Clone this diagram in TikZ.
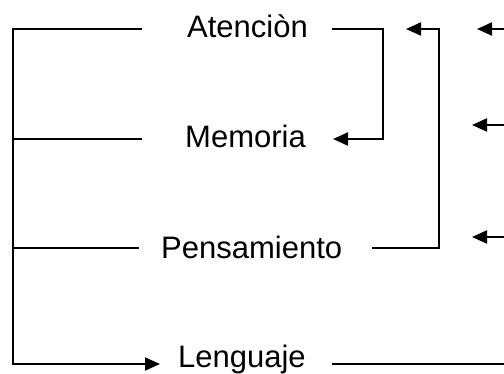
\documentclass[tikz,border=0pt]{standalone}
\usepackage{fontspec}
\setmainfont{Liberation Sans}
\usetikzlibrary{arrows.meta}
\begin{document}
\begin{tikzpicture}[x=1pt,y=-1pt,
  conn/.style={line width=2pt,line cap=rect},
  arr/.style={conn,line cap=butt,-{Triangle[length=15pt,width=13pt]}},
  lbl/.style={inner sep=0pt,anchor=base west,font=\fontsize{31}{37}\selectfont}]
\useasboundingbox (0,0) rectangle (504,373);
% labels
\node[lbl] (aten) at (187,37) {Atenciòn};
\node[lbl] (memo) at (185,147) {Memoria};
\node[lbl] (pens) at (161,258) {Pensamiento};
\node[lbl] (leng) at (178,367) {Lenguaje};
% left bracket coordinates
\coordinate (s1) at (13,29);
\coordinate (s2) at (13,139);
\coordinate (s3) at (13,248);
\coordinate (s4) at (13,364);
\coordinate (e1) at (141,29);
\coordinate (e2) at (141,139);
\coordinate (e3) at (138,248);
\coordinate (e4) at (160,364);
\draw[conn] (s1) -- (e1);
\draw[conn] (s2) -- (e2);
\draw[conn] (s3) -- (e3);
\draw[conn] (s1) -- (s4);
\draw[arr] (s4) -- (e4);
% right brackets
\coordinate (a1) at (332,29);
\coordinate (a2) at (383,29);
\coordinate (a3) at (383,139);
\coordinate (a4) at (333,139);
\draw[arr] (a1) -- (a2) -- (a3) -- (a4);
\coordinate (p1) at (372,248);
\coordinate (p2) at (439,248);
\coordinate (p3) at (439,29);
\coordinate (p4) at (406,29);
\draw[arr] (p1) -- (p2) -- (p3) -- (p4);
% incoming arrows from right edge
\coordinate (r1) at (504,29);  \coordinate (t1) at (477,29);
\coordinate (r2) at (504,125); \coordinate (t2) at (472,125);
\coordinate (r3) at (504,237); \coordinate (t3) at (472,237);
\draw[arr] (r1) -- (t1);
\draw[arr] (r2) -- (t2);
\draw[arr] (r3) -- (t3);
% Lenguaje line
\coordinate (l1) at (332,364);
\coordinate (l2) at (504,364);
\draw[conn,line cap=butt] (l1) -- (l2);
\end{tikzpicture}
\end{document}
